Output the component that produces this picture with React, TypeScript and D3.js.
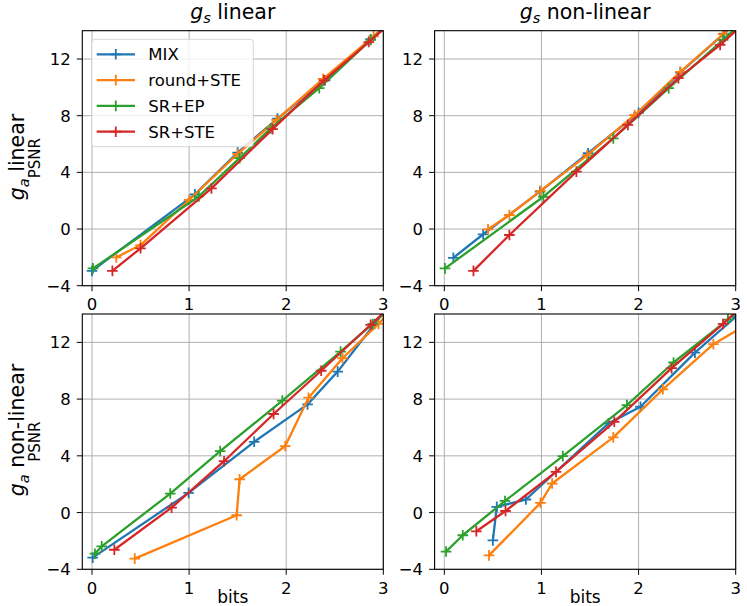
import * as d3 from "d3";

type Pt = [number, number];

const SERIES = ["MIX", "round+STE", "SR+EP", "SR+STE"];
const COLORS = ["#1f77b4", "#ff7f0e", "#2ca02c", "#d62728"];
const X_TICKS = [0, 1, 2, 3];
const Y_TICKS = [-4, 0, 4, 8, 12];
const COL_TITLES = ["linear", "non-linear"];
const ROW_TITLES = ["linear", "non-linear"];

// g_s linear / g_a linear
const tlMix: Pt[] = [[0, -2.95], [1.06, 2.45], [1.5, 5.4], [1.91, 7.8], [2.4, 10.5], [2.87, 13.4], [3.15, 15.0]];
const tlRound: Pt[] = [[0.25, -2.0], [0.5, -1.13], [1.0, 2.05], [1.5, 5.3], [1.9, 7.7], [2.38, 10.6], [2.9, 13.6], [3.15, 15.2]];
const tlSrEp: Pt[] = [[0.01, -2.78], [1.1, 2.3], [1.52, 5.0], [1.84, 7.1], [2.34, 9.95], [2.87, 13.35], [3.15, 15.0]];
const tlSrSte: Pt[] = [[0.21, -2.95], [0.5, -1.36], [1.23, 2.87], [1.86, 7.05], [2.39, 10.5], [2.85, 13.2], [3.15, 15.0]];

// g_s non-linear / g_a linear
const trMix: Pt[] = [[0.093, -2.03], [0.4, -0.37], [0.985, 2.64], [1.48, 5.35], [2.0, 8.2], [2.43, 11.05], [2.88, 13.8], [3.1, 15.2]];
const trRound: Pt[] = [[0.45, -0.02], [0.67, 0.99], [0.99, 2.7], [1.47, 5.2], [1.96, 8.05], [2.43, 11.1], [2.87, 13.75], [3.1, 15.1]];
const trSrEp: Pt[] = [[0.007, -2.78], [1.02, 2.28], [1.74, 6.4], [2.31, 9.95], [2.87, 13.35], [3.1, 14.8]];
const trSrSte: Pt[] = [[0.3, -2.95], [0.67, -0.42], [1.36, 4.05], [1.89, 7.35], [2.41, 10.65], [2.84, 13.0], [3.1, 14.6]];

// g_s linear / g_a non-linear
const blMix: Pt[] = [[0.007, -3.18], [0.995, 1.39], [1.67, 4.99], [2.22, 7.63], [2.53, 9.94], [2.91, 13.3], [3.1, 15.0]];
const blRound: Pt[] = [[0.44, -3.25], [1.49, -0.19], [1.52, 2.35], [1.99, 4.69], [2.23, 8.1], [2.58, 10.88], [2.95, 13.3], [3.1, 14.4]];
const blSrEp: Pt[] = [[0.03, -2.9], [0.1, -2.38], [0.806, 1.34], [1.32, 4.33], [1.96, 7.89], [2.56, 11.35], [2.89, 13.3], [3.1, 14.6]];
const blSrSte: Pt[] = [[0.23, -2.62], [0.82, 0.35], [1.36, 3.62], [1.87, 6.95], [2.36, 10.0], [2.87, 13.24], [3.1, 14.7]];

// g_s non-linear / g_a non-linear
const brMix: Pt[] = [[0.5, -1.96], [0.54, 0.4], [0.84, 0.92], [1.69, 6.29], [2.02, 7.46], [2.58, 11.28], [3.0, 13.8], [3.1, 14.4]];
const brRound: Pt[] = [[0.46, -3.02], [0.99, 0.68], [1.11, 2.05], [1.74, 5.3], [2.25, 8.69], [2.77, 11.87], [3.1, 13.2]];
const brSrEp: Pt[] = [[0.018, -2.75], [0.19, -1.6], [0.625, 0.82], [1.22, 3.98], [1.88, 7.58], [2.36, 10.58], [2.92, 13.6], [3.1, 14.6]];
const brSrSte: Pt[] = [[0.33, -1.32], [0.63, 0.11], [1.15, 2.87], [1.75, 6.4], [2.34, 10.18], [2.87, 13.3], [3.1, 14.8]];

const PANELS: Pt[][][][] = [
  [[tlMix, tlRound, tlSrEp, tlSrSte], [trMix, trRound, trSrEp, trSrSte]],
  [[blMix, blRound, blSrEp, blSrSte], [brMix, brRound, brSrEp, brSrSte]],
];

const COLS = [{ left: 82.3, right: 383.3 }, { left: 434.6, right: 735.7 }];
const ROWS = [{ top: 30.7, bottom: 285.7 }, { top: 314, bottom: 569.3 }];
const ROW_LABEL_Y = [157, 430];

const FONT = "DejaVu Sans, sans-serif";
const PLUS = "M-5.3,0H5.3M0,-5.3V5.3";

function Panel({ r, c }: { r: number; c: number }) {
  const { left, right } = COLS[c];
  const { top, bottom } = ROWS[r];
  const x = d3.scaleLinear().domain([-0.1, 3]).range([left, right]);
  const y = d3.scaleLinear().domain([-4, 14]).range([bottom, top]);
  const line = d3.line<Pt>().x((d) => x(d[0])).y((d) => y(d[1]));
  const id = `clip-${r}-${c}`;
  const data = PANELS[r][c];
  return (
    <g>
      <defs>
        <clipPath id={id}>
          <rect x={left} y={top} width={right - left} height={bottom - top} />
        </clipPath>
      </defs>
      <rect x={left} y={top} width={right - left} height={bottom - top} fill="#fff" />
      {X_TICKS.map((t) => (
        <line key={"gx" + t} x1={x(t)} x2={x(t)} y1={top} y2={bottom} stroke="#b0b0b0" strokeWidth={1} />
      ))}
      {Y_TICKS.map((t) => (
        <line key={"gy" + t} x1={left} x2={right} y1={y(t)} y2={y(t)} stroke="#b0b0b0" strokeWidth={1} />
      ))}
      <g clipPath={`url(#${id})`}>
        {data.map((s, i) => (
          <g key={i}>
            <path d={line(s) ?? ""} fill="none" stroke={COLORS[i]} strokeWidth={2.3} strokeLinejoin="round" />
            {s.map((p, j) => (
              <path key={j} d={PLUS} transform={`translate(${x(p[0])},${y(p[1])})`} stroke={COLORS[i]} strokeWidth={1.8} fill="none" />
            ))}
          </g>
        ))}
      </g>
      <rect x={left} y={top} width={right - left} height={bottom - top} fill="none" stroke="#000" strokeWidth={1.1} />
      {X_TICKS.map((t) => (
        <g key={"tx" + t}>
          <line x1={x(t)} x2={x(t)} y1={bottom} y2={bottom + 5.5} stroke="#000" strokeWidth={1} />
          <text x={x(t)} y={bottom + 24.5} textAnchor="middle" fontSize={16.5} fontFamily={FONT}>{t}</text>
        </g>
      ))}
      {Y_TICKS.map((t) => (
        <g key={"ty" + t}>
          <line x1={left - 5.5} x2={left} y1={y(t)} y2={y(t)} stroke="#000" strokeWidth={1} />
          <text x={left - 11.5} y={y(t)} dy="0.36em" textAnchor="end" fontSize={16.5} fontFamily={FONT}>
            {t < 0 ? "\u2212" + Math.abs(t) : t}
          </text>
        </g>
      ))}
      {r === 0 && (
        <text x={(left + right) / 2} y={19} textAnchor="middle" fontSize={20.5} fontFamily={FONT}>
          <tspan fontStyle="italic">g</tspan>
          <tspan fontStyle="italic" fontSize={14.5} dy={4}>s</tspan>
          <tspan dy={-4}>{" " + COL_TITLES[c]}</tspan>
        </text>
      )}
      {r === 1 && (
        <text x={(left + right) / 2} y={603} textAnchor="middle" fontSize={17} fontFamily={FONT}>bits</text>
      )}
      {c === 0 && (
        <g>
          <text transform={`translate(24,${ROW_LABEL_Y[r]}) rotate(-90)`} textAnchor="middle" fontSize={20.5} fontFamily={FONT}>
            <tspan fontStyle="italic">g</tspan>
            <tspan fontStyle="italic" fontSize={14.5} dy={4.5}>a</tspan>
            <tspan dy={-4.5}>{" " + ROW_TITLES[r]}</tspan>
          </text>
          <text transform={`translate(39.5,${(top + bottom) / 2}) rotate(-90)`} textAnchor="middle" fontSize={15} fontFamily={FONT}>PSNR</text>
        </g>
      )}
      {r === 0 && c === 0 && (
        <g>
          <rect x={91.7} y={39.3} width={161.6} height={107.4} rx={3} fill="#fff" fillOpacity={0.8} stroke="#cccccc" strokeOpacity={0.8} strokeWidth={1} />
          {SERIES.map((name, i) => {
            const ly = 54.3 + i * 25.8;
            return (
              <g key={name}>
                <line x1={96.7} x2={135} y1={ly} y2={ly} stroke={COLORS[i]} strokeWidth={2.3} />
                <path d={PLUS} transform={`translate(115.8,${ly})`} stroke={COLORS[i]} strokeWidth={1.8} />
                <text x={148.3} y={ly} dy="0.36em" fontSize={16.5} fontFamily={FONT}>{name}</text>
              </g>
            );
          })}
        </g>
      )}
    </g>
  );
}

export default function App() {
  return (
    <svg width={747} height={606} style={{ position: "absolute", left: 0, top: 0, background: "#fff" }}>
      <rect width={747} height={606} fill="#fff" />
      {[0, 1].map((r) => [0, 1].map((c) => <Panel key={`${r}-${c}`} r={r} c={c} />))}
    </svg>
  );
}
